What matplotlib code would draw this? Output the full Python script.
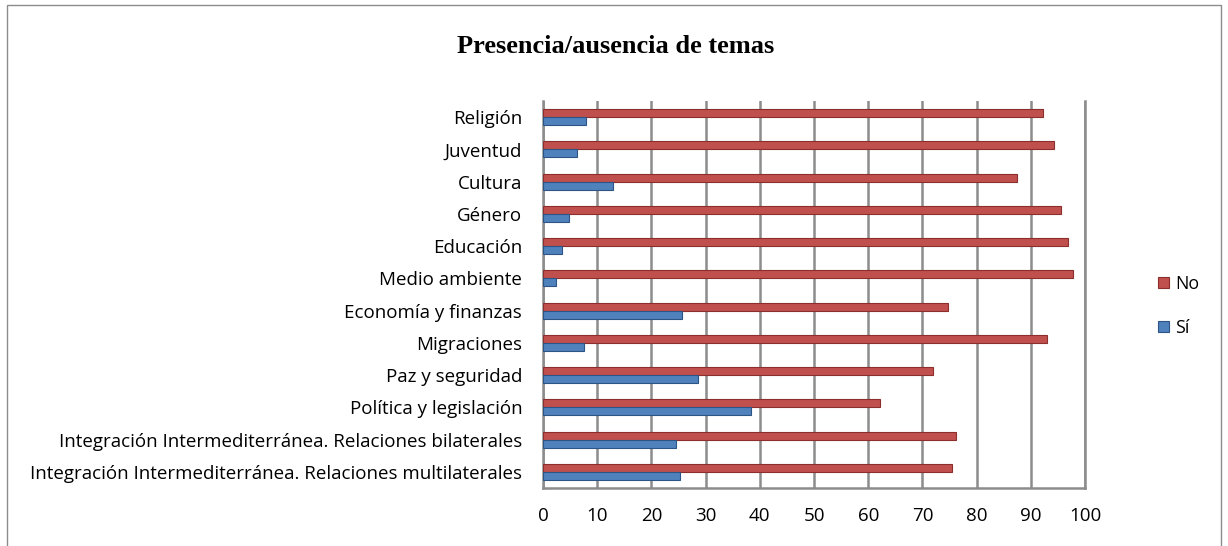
import numpy as np
import matplotlib; matplotlib.use("Agg"); import matplotlib.pyplot as plt
from matplotlib.patches import Rectangle

# categories listed bottom -> top
temas = ["Integración Intermediterránea. Relaciones multilaterales",
         "Integración Intermediterránea. Relaciones bilaterales",
         "Política y legislación", "Paz y seguridad", "Migraciones",
         "Economía y finanzas", "Medio ambiente", "Educación", "Género",
         "Cultura", "Juventud", "Religión"]
no_vals = [75.4, 76.1, 62.2, 71.9, 93.0, 74.7, 97.8, 96.8, 95.5, 87.4, 94.2, 92.2]
si_vals = [25.3, 24.5, 38.3, 28.6, 7.5, 25.7, 2.4, 3.5, 4.8, 12.9, 6.3, 7.9]
ticks = list(range(0, 101, 10))

RED, BLUE = "#c0504d", "#4f81bd"
plt.rcParams['font.family'] = ['Open Sans', 'DejaVu Sans']
FS = 13.5

fig = plt.figure(figsize=(12.28, 5.46), dpi=100)
ax = fig.add_axes([0.4422, 0.1062, 0.4414, 0.7088])
y = np.arange(len(temas))
h = 0.25
ax.barh(y + h/2, no_vals, height=h, color=RED, edgecolor="#8c2f2c", linewidth=0.8, label="No", zorder=3)
ax.barh(y - h/2, si_vals, height=h, color=BLUE, edgecolor="#2c5585", linewidth=0.8, label="Sí", zorder=3)
ax.set_xlim(0, 100); ax.set_ylim(-0.5, len(temas) - 0.5)
ax.set_xticks(ticks); ax.set_yticks(y)
ax.set_yticklabels(temas, fontsize=FS)
ax.tick_params(axis="x", length=0, pad=14, labelsize=FS)
ax.tick_params(axis="y", length=0, pad=15)
ax.xaxis.grid(True, color="#8c8c8c", linewidth=1.8, zorder=0)
ax.spines["top"].set_visible(False)
for s in ["left", "bottom", "right"]:
    ax.spines[s].set_color("#8c8c8c"); ax.spines[s].set_linewidth(1.8)

fig.text(0.501, 0.915, "Presencia/ausencia de temas", ha="center", va="center",
         fontsize=19, fontweight="bold", family="Liberation Serif")
hs, ls = ax.get_legend_handles_labels()
fig.legend(hs, ls, loc="center left", bbox_to_anchor=(0.93, 0.44), frameon=False,
           fontsize=12.8, handlelength=0.6, handleheight=0.6, handletextpad=0.35, labelspacing=1.45)
fig.patches.append(Rectangle((0.006, -0.01), 0.988, 1.0, transform=fig.transFigure,
                             fill=False, edgecolor="#8c8c8c", linewidth=1))
fig.savefig("out.png", dpi=100)
